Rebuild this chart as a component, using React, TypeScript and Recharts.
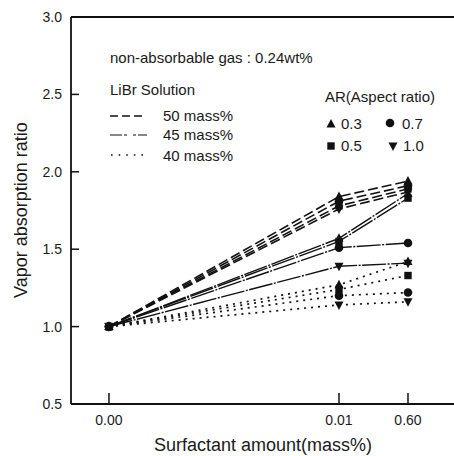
import { LineChart, Line, XAxis, YAxis, ReferenceLine } from 'recharts';

// broken x axis: three surfactant amounts, not linearly spaced
const xLabels = ['0.00', '0.01', '0.60'];
const xSlots = [0, 1, 1.3];
const yTicks = [0.5, 1.0, 1.5, 2.0, 2.5, 3.0];

const aspectRatios = ['0.3', '0.5', '0.7', '1.0'];

// vapor absorption ratio per AR (0.3, 0.5, 0.7, 1.0), one value per surfactant amount
const libr50 = [
  [1.0, 1.84, 1.94],
  [1.0, 1.78, 1.89],
  [1.0, 1.81, 1.91],
  [1.0, 1.76, 1.87],
];
const libr45 = [
  [1.0, 1.57, 1.86],
  [1.0, 1.55, 1.83],
  [1.0, 1.51, 1.54],
  [1.0, 1.39, 1.41],
];
const libr40 = [
  [1.0, 1.27, 1.42],
  [1.0, 1.24, 1.33],
  [1.0, 1.20, 1.22],
  [1.0, 1.14, 1.16],
];

const W = 454;
const H = 456;
const LEFT = 71;
const TOP = 17;
const BOTTOM = 404;
const INK = '#111';
const FONT = '"Liberation Sans", Arial, sans-serif';

const markerKinds = ['tri', 'sq', 'circ', 'inv'];

function Marker({ kind, cx, cy }: { kind: string; cx: number; cy: number }) {
  if (kind === 'tri')
    return <polygon points={`${cx},${cy - 5} ${cx + 4.5},${cy + 3.5} ${cx - 4.5},${cy + 3.5}`} fill={INK} />;
  if (kind === 'inv')
    return <polygon points={`${cx},${cy + 5} ${cx + 4.5},${cy - 3.5} ${cx - 4.5},${cy - 3.5}`} fill={INK} />;
  if (kind === 'sq') return <rect x={cx - 3.7} y={cy - 3.7} width={7.4} height={7.4} fill={INK} />;
  return <circle cx={cx} cy={cy} r={4.3} fill={INK} />;
}

const groups = [
  { name: '50', rows: libr50, dash: '10 4', width: 1.6 },
  { name: '45', rows: libr45, dash: '24 1.5 2 1.5', width: 1.4 },
  { name: '40', rows: libr40, dash: '2 5', width: 1.7 },
];

const series = groups.flatMap(g =>
  g.rows.map((vals, i) => ({
    key: `${g.name}-${aspectRatios[i]}`,
    dash: g.dash,
    width: g.width,
    kind: markerKinds[i],
    data: xSlots.map((x, j) => ({ x, y: vals[j] })),
  })),
);

function YTick({ y, payload }: any) {
  return (
    <g>
      <line x1={LEFT} x2={LEFT + 8} y1={y} y2={y} stroke={INK} strokeWidth={1.5} />
      <text x={62} y={y + 5} textAnchor="end" fontSize={14} fontFamily={FONT} fill="#1a1a1a">
        {Number(payload.value).toFixed(1)}
      </text>
    </g>
  );
}

function XTick({ x, payload }: any) {
  const idx = xSlots.indexOf(payload.value);
  return (
    <g>
      <line x1={x} x2={x} y1={BOTTOM} y2={BOTTOM - 11} stroke={INK} strokeWidth={1.5} />
      <text x={x} y={425} textAnchor="middle" fontSize={14} fontFamily={FONT} fill="#1a1a1a">
        {xLabels[idx]}
      </text>
    </g>
  );
}

function Annotations() {
  const t = { fontFamily: FONT, fontSize: 15, fill: '#1a1a1a' };
  return (
    <g>
      <text x={110} y={63} {...t}>non-absorbable gas : 0.24wt%</text>
      <text x={110} y={95} {...t}>LiBr Solution</text>
      <line x1={110} x2={146} y1={116} y2={116} stroke={INK} strokeWidth={1.3} strokeDasharray="8 4" />
      <text x={163} y={121} {...t}>50 mass%</text>
      <line x1={110} x2={147} y1={135} y2={135} stroke={INK} strokeWidth={1.1} strokeDasharray="12 2 3 6 3 2" />
      <text x={163} y={140} {...t}>45 mass%</text>
      <line x1={111} x2={146} y1={155} y2={155} stroke={INK} strokeWidth={1.6} strokeDasharray="1.6 6" />
      <text x={163} y={161} {...t}>40 mass%</text>

      <text x={325} y={102} {...t}>AR(Aspect ratio)</text>
      <Marker kind="tri" cx={331} cy={124} />
      <text x={341} y={129} {...t}>0.3</text>
      <Marker kind="circ" cx={390} cy={123} />
      <text x={402} y={129} {...t}>0.7</text>
      <Marker kind="sq" cx={331} cy={146} />
      <text x={341} y={151} {...t}>0.5</text>
      <Marker kind="inv" cx={393} cy={146} />
      <text x={403} y={151} {...t}>1.0</text>

      <text x={263} y={451} textAnchor="middle" fontFamily={FONT} fontSize={18} fill="#1a1a1a">
        Surfactant amount(mass%)
      </text>
      <text
        x={0}
        y={0}
        transform="translate(27, 210) rotate(-90)"
        textAnchor="middle"
        fontFamily={FONT}
        fontSize={18}
        fill="#1a1a1a"
      >
        Vapor absorption ratio
      </text>
    </g>
  );
}

export default function App() {
  return (
    <div style={{ position: 'absolute', left: 0, top: 0, background: '#fff' }}>
      <LineChart width={W} height={H} margin={{ top: TOP, right: 0, left: 0, bottom: 0 }}>
        <XAxis
          type="number"
          dataKey="x"
          domain={[-0.165, 1.5]}
          ticks={xSlots}
          allowDataOverflow
          height={H - BOTTOM}
          axisLine={{ stroke: INK, strokeWidth: 1.8 }}
          tickLine={false}
          tick={<XTick />}
          interval={0}
        />
        <YAxis
          type="number"
          domain={[0.5, 3.0]}
          ticks={yTicks}
          width={LEFT}
          axisLine={{ stroke: INK, strokeWidth: 1.8 }}
          tickLine={false}
          tick={<YTick />}
          interval={0}
        />
        <ReferenceLine y={3.0} stroke={INK} strokeWidth={1.8} />
        {series.map(s => (
          <Line
            key={s.key}
            data={s.data}
            dataKey="y"
            type="linear"
            stroke={INK}
            strokeWidth={s.width}
            strokeDasharray={s.dash}
            dot={(p: any) => <Marker key={`${s.key}-${p.index}`} kind={s.kind} cx={p.cx} cy={p.cy} />}
            activeDot={false}
            isAnimationActive={false}
          />
        ))}
        <Annotations />
      </LineChart>
    </div>
  );
}
